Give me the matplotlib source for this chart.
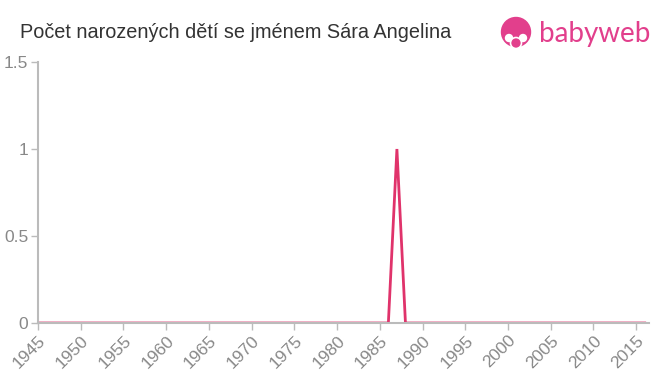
import numpy as np
import matplotlib.pyplot as plt
from matplotlib.patches import Circle

# data
years = list(range(1945, 2017))
counts = [0] * len(years)
counts[years.index(1987)] = 1

x_ticks = list(range(1945, 2016, 5))
y_ticks = [0, 0.5, 1, 1.5]
y_labels = ['0', '0.5', '1', '1.5']

title = 'Počet narozených dětí se jménem Sára Angelina'

line_color = '#e0336b'
axis_color = '#bbbbbb'
label_color = '#888888'
logo_color = '#e23f8c'

plt.rcParams['font.family'] = ['Liberation Sans', 'DejaVu Sans']

fig = plt.figure(figsize=(6.6, 3.75), dpi=100)
ax = fig.add_axes([38 / 660, 1 - 323 / 375, 611 / 660, 261 / 375])

ax.plot(years, counts, color=line_color, linewidth=2, solid_joinstyle='miter')

ax.set_xlim(1945, 2016.5)
ax.set_ylim(0, 1.5)
ax.set_xticks(x_ticks)
ax.set_xticklabels([str(t) for t in x_ticks], rotation=45, ha='right',
                   rotation_mode='anchor')
ax.set_yticks(y_ticks)
ax.set_yticklabels(y_labels)
ax.tick_params(colors=axis_color, labelcolor=label_color, labelsize=12.5,
               length=5, width=1)
ax.tick_params(axis='x', pad=2)
ax.tick_params(axis='y', pad=2)

for side in ['top', 'right']:
    ax.spines[side].set_visible(False)
for side in ['left', 'bottom']:
    ax.spines[side].set_color(axis_color)
    ax.spines[side].set_linewidth(1.5)

fig.text(20 / 660, 1 - 32 / 375, title, fontsize=14.3, color='#333333',
         va='center', ha='left')

# logo
logo_ax = fig.add_axes([0, 0, 1, 1], facecolor='none')
logo_ax.set_xlim(0, 660)
logo_ax.set_ylim(375, 0)
logo_ax.axis('off')
logo_ax.add_patch(Circle((516, 32), 14.5, color=logo_color))
logo_ax.add_patch(Circle((509, 38), 3.5, color='white'))
logo_ax.add_patch(Circle((523, 38), 3.5, color='white'))
logo_ax.add_patch(Circle((516, 43), 5.5, color=logo_color, ec='white', lw=1.2))
logo_ax.text(539, 34, 'babyweb', fontsize=20, color=logo_color,
             va='center', ha='left', family=['Lato', 'DejaVu Sans'])

fig.savefig('out.png', dpi=100)
